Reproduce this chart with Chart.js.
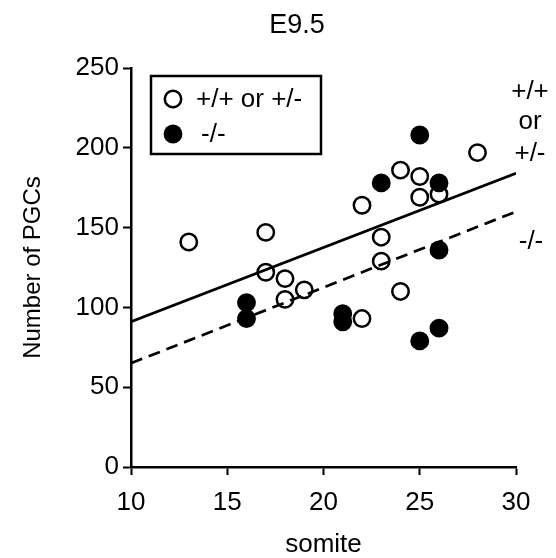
<!DOCTYPE html>
<html>
<head>
<meta charset="utf-8">
<script src="https://cdn.jsdelivr.net/npm/chart.js@4"></script>
<style>
  body { margin: 0; background: #fff; }
</style>
</head>
<body>
<canvas id="pgcChart" width="556" height="558"></canvas>
<script>
// datos (somite vs número de PGCs)
const somitaHet = [13, 17, 17, 18, 18, 19, 22, 22, 23, 23, 24, 24, 25, 25, 26, 28];
const pgcHet = [141, 147, 122, 118, 105, 111, 164, 93, 144, 129, 186, 110, 182, 169, 171, 197];
const somitaKO = [16, 16, 21, 21, 23, 25, 25, 26, 26, 26];
const pgcKO = [103, 93, 96, 91, 178, 208, 79, 178, 136, 87];
// rectas de regresión (extremos en x=10 y x=30)
const rectaX = [10, 30];
const rectaHet = [91, 184];
const rectaKO = [65, 160];
const xTicks = [10, 15, 20, 25, 30];
const yTicks = [0, 50, 100, 150, 200, 250];
const leyenda = ["+/+ or +/-", "-/-"];
const etiquetasDerecha = ["+/+", "or", "+/-", "-/-"];

const fuente = "'Liberation Sans', Arial, sans-serif";

function puntos(xs, ys) {
  return xs.map((x, i) => ({ x: x, y: ys[i] }));
}

// textos extra: título, leyenda con recuadro y etiquetas de la derecha
const textosPlugin = {
  id: "textos",
  afterDraw(chart) {
    const ctx = chart.ctx;
    ctx.save();
    ctx.fillStyle = "#000";
    ctx.strokeStyle = "#000";
    ctx.textBaseline = "middle";
    ctx.textAlign = "center";
    ctx.font = "27px " + fuente;
    ctx.fillText("E9.5", 297, 26);

    // recuadro de la leyenda
    ctx.lineWidth = 2.5;
    ctx.strokeRect(151, 76, 170, 78);
    ctx.beginPath();
    ctx.arc(173, 99, 8.2, 0, Math.PI * 2);
    ctx.stroke();
    ctx.beginPath();
    ctx.arc(173, 134, 9.4, 0, Math.PI * 2);
    ctx.fill();
    ctx.font = "26px " + fuente;
    ctx.textAlign = "left";
    ctx.fillText(leyenda[0], 196, 100);
    ctx.fillText(leyenda[1], 201, 135);

    ctx.textAlign = "center";
    ctx.fillText(etiquetasDerecha[0], 530, 92);
    ctx.fillText(etiquetasDerecha[1], 530, 122);
    ctx.fillText(etiquetasDerecha[2], 530, 154);
    ctx.fillText(etiquetasDerecha[3], 531, 242);
    ctx.restore();
  },
};

document.addEventListener("DOMContentLoaded", function () {
  const ctx = document.getElementById("pgcChart").getContext("2d");
  new Chart(ctx, {
    type: "scatter",
    data: {
      datasets: [
        {
          label: leyenda[1],
          data: puntos(somitaKO, pgcKO),
          backgroundColor: "#000",
          borderColor: "#000",
          borderWidth: 2.5,
          pointRadius: 8.2,
          order: 3,
        },
        {
          label: leyenda[0],
          data: puntos(somitaHet, pgcHet),
          backgroundColor: "rgba(255, 255, 255, 0)",
          borderColor: "#000",
          borderWidth: 2.5,
          pointRadius: 8.2,
          order: 2,
        },
        {
          type: "line",
          label: "recta +/+ o +/-",
          data: puntos(rectaX, rectaHet),
          borderColor: "#000",
          borderWidth: 2.7,
          pointRadius: 0,
          fill: false,
          order: 1,
        },
        {
          type: "line",
          label: "recta -/-",
          data: puntos(rectaX, rectaKO),
          borderColor: "#000",
          borderWidth: 2.7,
          borderDash: [12, 7],
          pointRadius: 0,
          fill: false,
          order: 1,
        },
      ],
    },
    options: {
      responsive: false,
      animation: false,
      devicePixelRatio: 1,
      layout: {
        padding: { top: 68, right: 40, left: 0, bottom: 0 },
      },
      plugins: {
        legend: { display: false },
        tooltip: { enabled: false },
      },
      scales: {
        x: {
          type: "linear",
          min: 10,
          max: 30,
          afterFit: function (scale) {
            scale.height = 91;
          },
          afterBuildTicks: function (scale) {
            scale.ticks = xTicks.map((v) => ({ value: v }));
          },
          border: { display: true, color: "#000", width: 2.5 },
          grid: {
            drawOnChartArea: false,
            tickLength: 8,
            tickColor: "#000",
            tickWidth: 2,
          },
          ticks: {
            color: "#000",
            padding: 12,
            maxRotation: 0,
            font: { family: fuente, size: 26 },
          },
          title: {
            display: true,
            text: "somite",
            color: "#000",
            padding: 0,
            font: { family: fuente, size: 26, lineHeight: 1 },
          },
        },
        y: {
          type: "linear",
          min: 0,
          max: 250,
          afterFit: function (scale) {
            scale.width = 131;
          },
          afterBuildTicks: function (scale) {
            scale.ticks = yTicks.map((v) => ({ value: v }));
          },
          border: { display: true, color: "#000", width: 2.5 },
          grid: {
            drawOnChartArea: false,
            tickLength: 8,
            tickColor: "#000",
            tickWidth: 2,
          },
          ticks: {
            color: "#000",
            padding: 4,
            font: { family: fuente, size: 26 },
          },
          title: {
            display: true,
            text: "Number of PGCs",
            color: "#000",
            padding: { top: 21, bottom: 0 },
            font: { family: fuente, size: 24, lineHeight: 1 },
          },
        },
      },
    },
    plugins: [textosPlugin],
  });
});
</script>
</body>
</html>
